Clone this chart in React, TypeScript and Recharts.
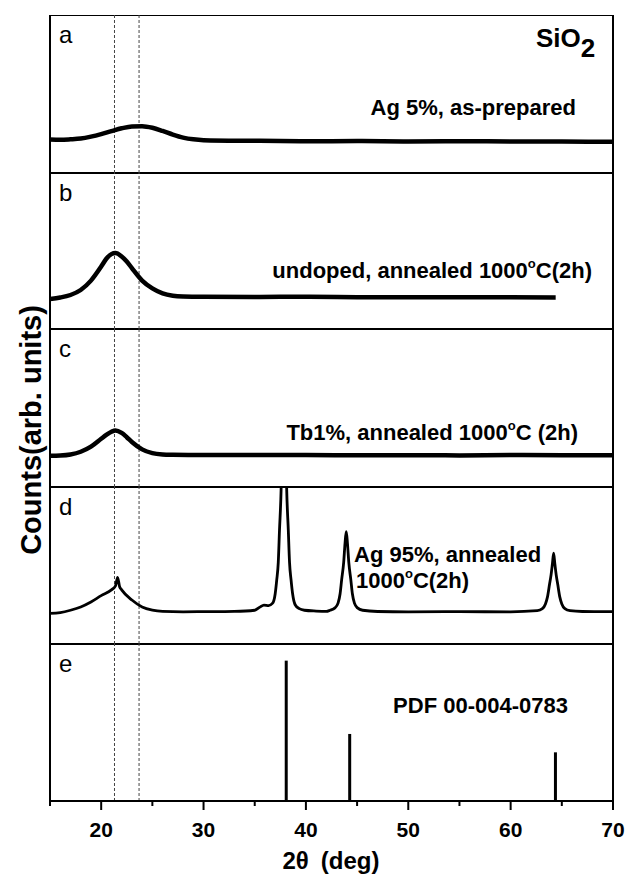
import React from 'react';
import { ComposedChart, Line, Bar, XAxis, YAxis, ReferenceLine, ReferenceArea } from 'recharts';

// 2theta positions and counts (arb., 0 = panel bottom, 100 = panel top)
const angleA = [15, 16, 17, 18, 19, 20, 21, 22, 23, 24, 25, 26, 27, 28, 29, 30, 35, 40, 45, 50, 55, 60, 65, 70];
const countsA = [21.2, 21.0, 21.3, 21.8, 23.0, 24.6, 26.5, 28.3, 29.5, 29.6, 28.6, 26.6, 24.3, 22.4, 21.3, 20.8, 20.4, 20.1, 20.2, 20.0, 20.1, 20.0, 19.9, 19.8];

const angleB = [15, 16, 17, 18, 19, 20, 20.5, 21, 21.4, 22, 22.5, 23, 24, 25, 26, 27, 28, 30, 35, 40, 45, 50, 55, 60, 64.4];
const countsB = [19.3, 20.2, 21.8, 25, 31, 40, 45, 48, 48.7, 46.5, 43.3, 39, 31, 26, 22.8, 21.3, 20.8, 20.6, 20.5, 20.7, 20.4, 20.3, 20.3, 20.3, 20.2];

const angleC = [15, 16, 17, 18, 19, 20, 20.5, 21, 21.4, 22, 22.5, 23, 24, 25, 26, 27, 30, 35, 40, 45, 50, 55, 60, 65, 70];
const countsC = [19.7, 19.9, 20.6, 22.3, 25.5, 30.5, 33, 35, 35.8, 34.2, 31.5, 28.5, 23.8, 21.4, 20.6, 20.4, 20.2, 20.3, 20.2, 20.1, 20.1, 20.0, 20.2, 20.1, 20.1];

const angleD = [
  15, 16, 17, 18, 19, 20, 21, 21.4, 21.6, 21.8, 22, 23, 24, 25, 26, 28, 30, 33, 35, 35.5, 35.9, 36.35,
  36.75, 37.0, 37.15, 37.3, 37.42, 37.575, 37.7, 37.85, 38.0, 38.125, 38.28, 38.4, 38.55, 38.7, 38.95, 39.35, 39.85,
  41, 42, 42.35, 42.84, 43.14, 43.34, 43.49, 43.69, 43.82, 43.94, 44.06, 44.19, 44.39, 44.54, 44.74, 45.04, 45.54,
  47, 50, 55, 60, 62.6, 63.1, 63.4, 63.6, 63.8, 63.95, 64.08, 64.2, 64.32, 64.45, 64.6, 64.8, 65.0, 65.3, 65.8, 67, 70,
];
const countsD = [
  19.5, 20.0, 21.5, 23.6, 26.8, 30.8, 34.5, 37, 42.5, 36.5, 34.5, 28, 23.6, 21.6, 20.8, 20.5, 20.6, 20.8, 21.5, 23.5, 24.8, 24.5,
  26, 32, 40.8, 52, 72.6, 98, 140, 160, 140, 98, 72.6, 52, 40.8, 32, 25, 22.5, 21.5,
  21, 20.8, 21.5, 23, 26, 32, 40.8, 52, 64, 71.5, 64, 52, 40.8, 32, 26, 23, 21.5,
  20.7, 20.5, 20.6, 20.5, 21.2, 22.5, 25.5, 30, 38, 44, 51, 57.8, 51, 44, 38, 30, 25.5, 22.5, 21.2, 20.7, 20.6,
];

// PDF 00-004-0783 reference lines
const refAngles = [38.1, 44.3, 64.4];
const refIntensity = [89.4, 42.7, 31];

const guideAngles = [21.3, 23.7];
const xTicks = [15, 20, 25, 30, 35, 40, 45, 50, 55, 60, 65, 70];

const zip = (xs: number[], ys: number[]) => xs.map((x, i) => ({ x, y: ys[i] }));

const FONT = '"Liberation Sans", Arial, Helvetica, sans-serif';
const W = 627;
const M = { top: 0, right: 14, bottom: 0, left: 50 };

const panels = [
  { key: 'a', top: 15, h: 158, data: zip(angleA, countsA), sw: 4.5 },
  { key: 'b', top: 173, h: 156, data: zip(angleB, countsB), sw: 4.5 },
  { key: 'c', top: 329, h: 158, data: zip(angleC, countsC), sw: 4.5 },
  { key: 'd', top: 487, h: 157, data: zip(angleD, countsD), sw: 2.8 },
];

const AxisTick = (props: any) => {
  const { x, y, payload } = props;
  const major = payload.value % 10 === 0;
  return (
    <g>
      <line x1={x} x2={x} y1={y} y2={y + (major ? 9 : 5)} stroke="#000" strokeWidth={2} />
      {major && (
        <text x={x} y={y + 36} textAnchor="middle" fontFamily={FONT} fontWeight="bold" fontSize={21} fill="#000">
          {payload.value}
        </text>
      )}
    </g>
  );
};

const Deg = () => (
  <tspan fontSize={13} dy={-10}>o</tspan>
);

export default function App() {
  return (
    <div style={{ position: 'absolute', left: 0, top: 0, width: W, height: 876, background: '#fff' }}>
      {panels.map((p) => (
        <div key={p.key} style={{ position: 'absolute', left: 0, top: p.top }}>
          <ComposedChart width={W} height={p.h} margin={M} data={p.data}>
            <XAxis type="number" dataKey="x" domain={[15, 70]} hide allowDataOverflow />
            <YAxis type="number" domain={[0, 100]} hide allowDataOverflow />
            {guideAngles.map((g) => (
              <ReferenceLine key={g} x={g} stroke="#444" strokeWidth={1} strokeDasharray="3 2" />
            ))}
            <Line
              type="monotone"
              dataKey="y"
              stroke="#000"
              strokeWidth={p.sw}
              dot={false}
              isAnimationActive={false}
            />
            <ReferenceArea x1={15} x2={70} y1={0} y2={100} fill="none" stroke="#000" strokeWidth={2} fillOpacity={0} />
          </ComposedChart>
        </div>
      ))}
      <div style={{ position: 'absolute', left: 0, top: 644 }}>
        <ComposedChart width={W} height={157 + 75} margin={M} data={zip(refAngles, refIntensity)}>
          <XAxis
            type="number"
            dataKey="x"
            domain={[15, 70]}
            ticks={xTicks}
            interval={0}
            height={75}
            tickSize={0}
            tickMargin={0}
            tickLine={false}
            tick={<AxisTick />}
            axisLine={{ stroke: '#000', strokeWidth: 2 }}
          />
          <YAxis type="number" domain={[0, 100]} hide />
          {guideAngles.map((g) => (
            <ReferenceLine key={g} x={g} stroke="#444" strokeWidth={1} strokeDasharray="3 2" />
          ))}
          <Bar dataKey="y" fill="#000" barSize={3} isAnimationActive={false} />
          <ReferenceArea x1={15} x2={70} y1={0} y2={100} fill="none" stroke="#000" strokeWidth={2} fillOpacity={0} />
        </ComposedChart>
      </div>
      <svg
        width={W}
        height={876}
        style={{ position: 'absolute', left: 0, top: 0, pointerEvents: 'none' }}
        fontFamily={FONT}
        fill="#000"
      >
        {['a', 'b', 'c', 'd', 'e'].map((l, i) => (
          <text key={l} x={59} y={[15, 173, 329, 487, 644][i] + 28} fontSize={24}>
            {l}
          </text>
        ))}
        <text x={536} y={47} fontSize={26} fontWeight="bold">
          SiO<tspan dy={10}>2</tspan>
        </text>
        <g fontWeight="bold" fontSize={22}>
          <text x={576} y={115} textAnchor="end">Ag 5%, as-prepared</text>
          <text x={592} y={278} textAnchor="end">
            undoped, annealed 1000<Deg /><tspan dy={10}>C(2h)</tspan>
          </text>
          <text x={578} y={440} textAnchor="end">
            Tb1%, annealed 1000<Deg /><tspan dy={10}>C (2h)</tspan>
          </text>
          <text x={354} y={562}>Ag 95%, annealed</text>
          <text x={356} y={588}>
            1000<Deg /><tspan dy={10}>C(2h)</tspan>
          </text>
          <text x={568} y={713} textAnchor="end">PDF 00-004-0783</text>
        </g>
        <text x={331} y={869} textAnchor="middle" fontSize={24} fontWeight="bold">
          2θ<tspan dx={12}>(deg)</tspan>
        </text>
        <text
          x={41}
          y={430}
          transform="rotate(-90 41 430)"
          textAnchor="middle"
          fontSize={29}
          fontWeight="bold"
        >
          Counts(arb. units)
        </text>
      </svg>
    </div>
  );
}
